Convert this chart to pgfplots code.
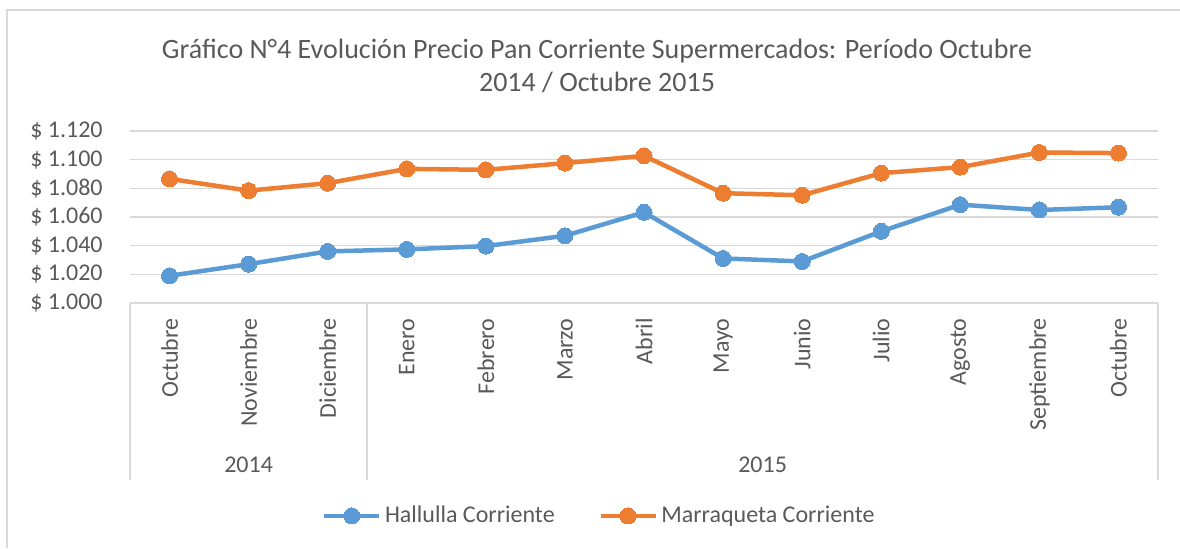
\documentclass[border=0pt]{standalone}
\usepackage{fontspec}
\setmainfont{Carlito}
\usepackage{pgfplots}
\pgfplotsset{compat=1.18}
\definecolor{hblue}{HTML}{5B9BD5}
\definecolor{morange}{HTML}{ED7D31}
\definecolor{txt}{HTML}{595959}
\definecolor{gridgray}{HTML}{D9D9D9}

\begin{document}
\begin{tikzpicture}
\path[use as bounding box] (0pt,0pt) rectangle (590pt,274pt);
\draw[gridgray, line width=0.8pt] (3.5pt,0pt) -- (3.5pt,269pt) -- (590pt,269pt);
\node[txt, align=center, font=\fontsize{14}{16.5}\selectfont] at (298.5pt,241pt)
  {Gráfico N°4 Evolución Precio Pan Corriente Supermercados: Período Octubre\\2014 / Octubre 2015};
\begin{axis}[
  at={(65pt,122.5pt)}, anchor=south west,
  scale only axis, width=514pt, height=86pt,
  xmin=-0.5, xmax=12.5, ymin=1000, ymax=1120,
  clip=false,
  separate axis lines,
  axis x line*=bottom, axis y line*=left,
  y axis line style={draw=none},
  x axis line style={draw=gridgray, line width=0.8pt},
  major tick length=0pt,
  ymajorgrids, grid style={gridgray, line width=0.8pt},
  ytick={1000,1020,1040,1060,1080,1100,1120},
  yticklabels={\$ 1.000,\$ 1.020,\$ 1.040,\$ 1.060,\$ 1.080,\$ 1.100,\$ 1.120},
  xtick={0,...,12},
  xticklabels={Octubre,Noviembre,Diciembre,Enero,Febrero,Marzo,Abril,Mayo,Junio,Julio,Agosto,Septiembre,Octubre},
  tick label style={txt, font=\fontsize{12}{14}\selectfont, inner sep=0pt},
  yticklabel style={anchor=east},
  yticklabel shift=13.5pt,
  xticklabel style={rotate=90, anchor=east},
  xticklabel shift=7.5pt,
  legend columns=2,
  legend style={draw=none, fill=none, at={(0.4572,-1.238)}, anchor=center,
    font=\fontsize{12}{14}\selectfont, text=txt,
    /tikz/every even column/.append style={column sep=20pt},
    nodes={inner sep=1.75pt}},
  legend image code/.code={\draw[mark repeat=2,mark phase=2,#1] plot coordinates {(0pt,0pt)(13.75pt,0pt)(27.5pt,0pt)};},
  every axis plot/.append style={line width=2.25pt, mark=*, mark size=4pt},
]
\addplot[hblue, mark options={fill=hblue, draw=hblue, line width=0pt}] coordinates {
 (0,1019.0) (1,1027.1) (2,1036.0) (3,1037.4) (4,1039.7) (5,1046.9) (6,1063.3)
 (7,1031.1) (8,1029.0) (9,1050.0) (10,1068.6) (11,1064.9) (12,1066.8)};
\addlegendentry{Hallulla Corriente}
\addplot[morange, mark options={fill=morange, draw=morange, line width=0pt}] coordinates {
 (0,1086.6) (1,1078.4) (2,1083.6) (3,1093.6) (4,1092.9) (5,1097.6) (6,1102.7)
 (7,1076.6) (8,1075.2) (9,1090.6) (10,1094.8) (11,1105.0) (12,1104.6)};
\addlegendentry{Marraqueta Corriente}
\draw[gridgray, line width=0.8pt] (axis cs:-0.5,1000) -- ++(0pt,-88.5pt);
\draw[gridgray, line width=0.8pt] (axis cs:2.5,1000) -- ++(0pt,-88.5pt);
\draw[gridgray, line width=0.8pt] (axis cs:12.5,1000) -- ++(0pt,-88.5pt);
\node[txt, font=\fontsize{12}{14}\selectfont] at ([yshift=-81pt]axis cs:1,1000) {2014};
\node[txt, font=\fontsize{12}{14}\selectfont] at ([yshift=-81pt]axis cs:7.5,1000) {2015};
\end{axis}
\end{tikzpicture}
\end{document}
